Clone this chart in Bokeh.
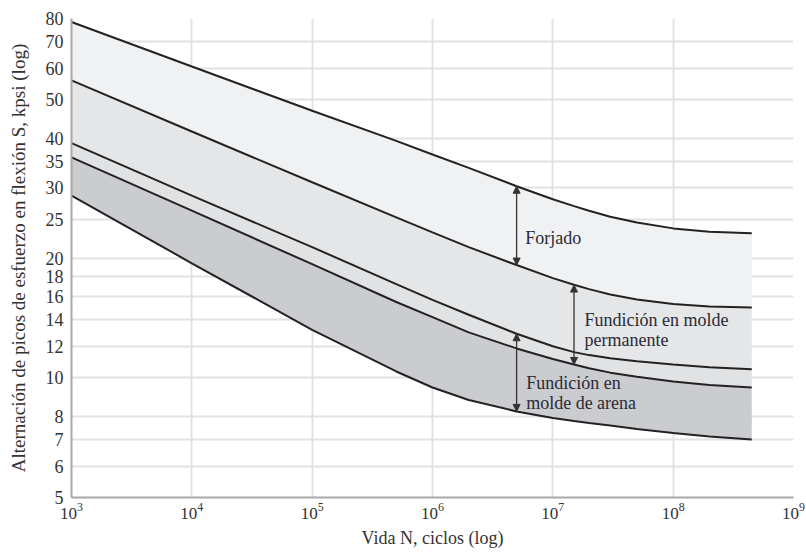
from bokeh.plotting import figure
from bokeh.models import Range1d, FixedTicker, CustomJSTickFormatter, LogTickFormatter, Arrow, NormalHead
from bokeh.core.properties import value
from bokeh.embed import file_html
from bokeh.resources import INLINE

# Life N (cycles) at which the curves were read
N = [1e3, 1e4, 1e5, 5e5, 1e6, 2e6, 5e6, 1e7, 1.5e7, 2e7, 3e7, 5e7, 1e8, 2e8, 4.5e8]

# Stress S (kpsi) for the five boundary curves, top to bottom
s_c1 = [78.4, 60.6, 46.9, 39.4, 36.4, 33.7, 30.3, 28.1, 27.0, 26.3, 25.4, 24.55, 23.74, 23.29, 23.07]
s_c2 = [55.9, 41.6, 31.0, 25.3, 23.2, 21.3, 19.2, 17.8, 17.13, 16.7, 16.2, 15.73, 15.32, 15.11, 15.01]
s_c3 = [38.9, 28.7, 21.3, 17.2, 15.7, 14.4, 12.9, 12.0, 11.6, 11.4, 11.2, 11.0, 10.8, 10.63, 10.5]
s_c4 = [35.8, 26.3, 19.3, 15.5, 14.2, 13.0, 11.85, 11.15, 10.8, 10.57, 10.3, 10.06, 9.78, 9.59, 9.45]
s_c5 = [28.7, 19.4, 13.2, 10.37, 9.45, 8.79, 8.23, 7.92, 7.79, 7.7, 7.59, 7.43, 7.26, 7.12, 6.99]

y_ticks = [5, 6, 7, 8, 10, 12, 14, 16, 18, 20, 25, 30, 35, 40, 50, 60, 70, 80]
x_ticks = [1e3, 1e4, 1e5, 1e6, 1e7, 1e8, 1e9]

# arrows: (N, S low, S high)
arrows = [(5e6, 19.2, 30.3), (1.5e7, 10.8, 17.1), (5e6, 8.23, 12.9)]
labels = [
    (5.9e6, 22.4, "Forjado"),
    (1.83e7, 14.0, "Fundición en molde"),
    (1.83e7, 12.45, "permanente"),
    (6.0e6, 9.7, "Fundición en"),
    (6.0e6, 8.62, "molde de arena"),
]

FONT = "serif"
TXT = "#333333"

p = figure(width=806, height=554, x_axis_type="log", y_axis_type="log",
           x_range=Range1d(1e3, 1e9), y_range=Range1d(5, 80),
           output_backend="svg", toolbar_location=None,
           min_border_left=71, min_border_right=13, min_border_top=18, min_border_bottom=57)
p.outline_line_color = None
p.background_fill_color = "white"

# bands
p.varea(x=N, y1=s_c2, y2=s_c1, fill_color="#f0f1f3")
p.varea(x=N, y1=s_c3, y2=s_c2, fill_color="#e5e6e8")
p.varea(x=N, y1=s_c4, y2=s_c3, fill_color="#e1e2e4")
p.varea(x=N, y1=s_c5, y2=s_c4, fill_color="#cbcccf")

for s in [s_c1, s_c2, s_c3, s_c4, s_c5]:
    p.line(N, s, line_color="#222222", line_width=2)

for (xa, y0, y1) in arrows:
    p.add_layout(Arrow(x_start=xa, y_start=y0, x_end=xa, y_end=y1,
                       line_color="#333333", line_width=1.3,
                       start=NormalHead(size=7, fill_color="#333333", line_color="#333333"),
                       end=NormalHead(size=7, fill_color="#333333", line_color="#333333")))

p.text(x=[l[0] for l in labels], y=[l[1] for l in labels], text=[l[2] for l in labels],
       text_font=value(FONT), text_font_size="18px", text_color="#2a2a35",
       text_baseline="middle", text_align="left")

# axes
p.xaxis.ticker = FixedTicker(ticks=x_ticks)
p.xaxis.formatter = LogTickFormatter()
p.yaxis.ticker = FixedTicker(ticks=y_ticks)
p.yaxis.formatter = CustomJSTickFormatter(code="return tick.toFixed(0);")

for ax in [p.xaxis, p.yaxis]:
    ax.axis_line_color = "#a8a8a8"
    ax.axis_line_width = 2
    ax.major_tick_line_color = None
    ax.minor_tick_line_color = None
    ax.major_tick_out = 0
    ax.major_tick_in = 0
    ax.major_label_text_font = FONT
    ax.major_label_text_font_size = "18px"
    ax.major_label_text_color = TXT
    ax.axis_label_text_font = FONT
    ax.axis_label_text_font_size = "19px"
    ax.axis_label_text_font_style = "normal"
    ax.axis_label_text_color = TXT

p.xaxis.major_label_text_font_size = "17px"
p.xaxis.axis_label_text_font_size = "18px"
p.xaxis.axis_label = "Vida N, ciclos (log)"
p.yaxis.axis_label = "Alternación de picos de esfuerzo en flexión S, kpsi (log)"
p.xaxis.major_label_standoff = 5
p.yaxis.major_label_standoff = 8
p.xaxis.axis_label_standoff = 6
p.yaxis.axis_label_standoff = 14

p.xgrid.ticker = FixedTicker(ticks=x_ticks)
p.ygrid.ticker = FixedTicker(ticks=y_ticks)
p.grid.grid_line_color = "#e2e2e2"
p.grid.grid_line_width = 2

open("out.html", "w").write(file_html(p, INLINE))
